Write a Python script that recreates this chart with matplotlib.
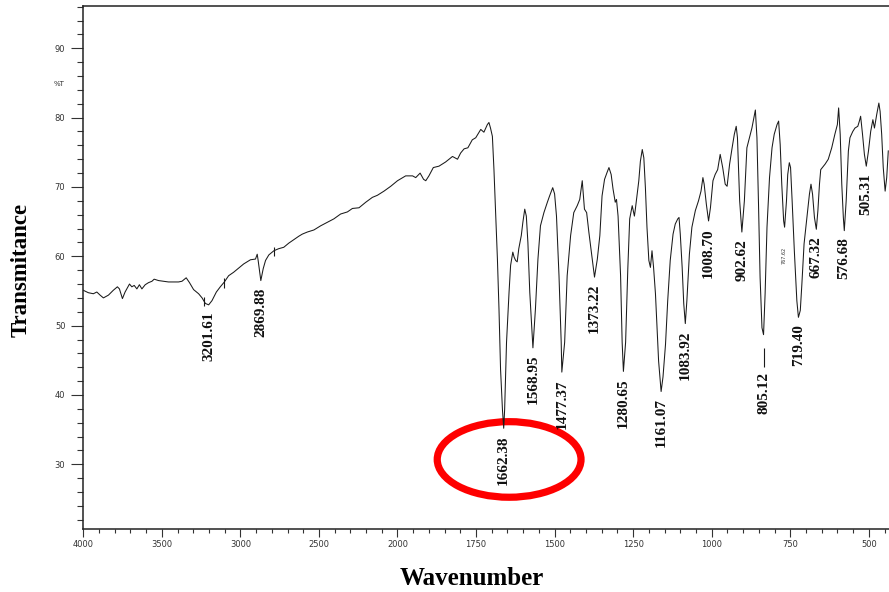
import numpy as np
import matplotlib.pyplot as plt
from matplotlib.patches import Ellipse
from matplotlib.ticker import FixedLocator

# IR spectrum (cm-1, %T)
wavenumber = [4000, 3968, 3936, 3914, 3893, 3872, 3840, 3809, 3783, 3770, 3751, 3734,
              3706, 3691, 3676, 3659, 3643, 3627, 3606, 3585, 3563, 3549, 3521, 3489,
              3458, 3426, 3394, 3372, 3345, 3324, 3298, 3266, 3244, 3223, 3202, 3181,
              3153, 3128, 3102, 3075, 3043, 3011, 2979, 2957, 2936, 2904, 2893, 2887,
              2870, 2855, 2840, 2819, 2787, 2756, 2724, 2692, 2660, 2628, 2606, 2574,
              2532, 2489, 2447, 2405, 2362, 2319, 2287, 2245, 2202, 2160, 2128, 2086,
              2043, 2000, 1974, 1952, 1942, 1928, 1917, 1910, 1900, 1886, 1868, 1847,
              1825, 1809, 1799, 1788, 1776, 1762, 1751, 1735, 1725, 1714, 1709, 1704,
              1698, 1693, 1688, 1682, 1677, 1672, 1666, 1662, 1659, 1653, 1645, 1640,
              1633, 1629, 1624, 1619, 1614, 1606, 1601, 1595, 1590, 1585, 1579, 1571,
              1569, 1561, 1553, 1545, 1534, 1523, 1516, 1510, 1506, 1500, 1494, 1486,
              1479, 1477, 1468, 1460, 1449, 1439, 1428, 1420, 1412, 1405, 1398, 1391,
              1380, 1373, 1364, 1356, 1349, 1341, 1333, 1327, 1320, 1314, 1307, 1303,
              1298, 1290, 1285, 1281, 1274, 1267, 1261, 1253, 1246, 1243, 1232, 1227,
              1221, 1216, 1211, 1206, 1200, 1195, 1190, 1185, 1179, 1174, 1169, 1161,
              1155, 1147, 1140, 1132, 1123, 1116, 1108, 1104, 1100, 1094, 1089, 1084,
              1079, 1071, 1063, 1052, 1042, 1034, 1028, 1024, 1017, 1010, 1004, 996,
              989, 981, 973, 965, 957, 951, 943, 935, 928, 922, 918, 911,
              904, 896, 888, 880, 872, 865, 861, 856, 851, 846, 840, 835,
              830, 824, 816, 808, 801, 792, 787, 782, 777, 771, 768, 762,
              758, 753, 749, 744, 737, 729, 724, 718, 713, 706, 697, 689,
              684, 679, 673, 667, 662, 657, 653, 639, 629, 618, 608, 600,
              596, 591, 586, 581, 578, 572, 565, 560, 551, 544, 535, 530,
              526, 520, 514, 508, 501, 494, 487, 482, 475, 468, 464, 459,
              454, 448, 443, 438]
transmittance = [55.1, 54.75, 54.6, 54.85, 54.4, 54.0, 54.4, 55.1, 55.6, 55.3, 53.9, 54.85,
                 56.0, 55.6, 55.8, 55.3, 55.9, 55.3, 55.9, 56.2, 56.4, 56.7, 56.5, 56.4,
                 56.3, 56.3, 56.3, 56.4, 56.9, 56.2, 55.2, 54.6, 54.0, 53.2, 53.0, 53.6,
                 54.85, 55.6, 56.3, 57.2, 57.7, 58.3, 58.9, 59.2, 59.5, 59.6, 60.3, 59.4,
                 56.5, 58.2, 59.4, 60.2, 60.8, 61.1, 61.3, 61.9, 62.4, 62.9, 63.2, 63.5,
                 63.8, 64.4, 64.9, 65.4, 66.1, 66.4, 66.9, 67.0, 67.8, 68.5, 68.8, 69.4,
                 70.1, 70.9, 71.6, 71.6, 71.35, 72.0, 71.1, 70.9, 71.6, 72.8, 73.0, 73.6,
                 74.4, 74.0, 74.9, 75.5, 75.65, 76.8, 77.1, 78.3, 77.9, 79.0, 79.3, 78.5,
                 77.3, 72.5, 66.8, 59.6, 52.4, 43.7, 37.9, 35.2, 37.9, 47.6, 54.8, 58.7,
                 60.6, 59.9, 59.4, 59.2, 61.1, 63.0, 64.9, 66.8, 65.8, 62.0, 54.8, 48.5,
                 46.8, 52.4, 59.6, 64.4, 66.3, 67.8, 68.7, 69.4, 69.9, 69.0, 65.8, 57.2,
                 47.6, 43.3, 47.6, 57.2, 63.0, 66.3, 67.3, 68.2, 70.9, 66.8, 66.3, 63.5,
                 59.6, 57.0, 59.6, 63.0, 68.7, 71.1, 72.1, 72.8, 71.8, 69.7, 67.8, 68.2,
                 65.8, 57.2, 47.6, 43.4, 47.6, 58.2, 65.4, 67.3, 65.8, 66.8, 70.9, 73.7,
                 75.4, 74.2, 69.9, 64.2, 59.4, 58.4, 60.8, 58.4, 54.6, 49.7, 44.9, 40.5,
                 42.6, 47.3, 53.6, 59.4, 63.2, 64.65, 65.4, 65.6, 63.2, 58.4, 53.2, 50.3,
                 53.6, 60.3, 64.2, 66.6, 68.0, 69.4, 71.35, 70.4, 67.5, 65.1, 67.0, 70.9,
                 71.8, 72.5, 74.7, 72.8, 70.4, 70.1, 73.3, 75.65, 77.6, 78.75, 77.1, 68.0,
                 63.5, 68.0, 75.65, 77.1, 78.5, 80.2, 81.1, 77.1, 67.5, 57.0, 49.7, 48.7,
                 54.6, 64.2, 71.35, 75.65, 77.6, 79.0, 79.5, 76.1, 70.4, 65.1, 64.2, 68.0,
                 71.8, 73.5, 72.8, 68.0, 60.8, 53.6, 51.2, 52.2, 56.0, 61.8, 65.6, 68.95,
                 70.4, 68.95, 65.6, 63.9, 66.6, 70.4, 72.5, 73.3, 74.0, 75.65, 77.6, 79.0,
                 81.4, 77.6, 70.4, 65.6, 63.7, 68.0, 75.2, 77.1, 78.0, 78.5, 78.75, 79.5,
                 80.2, 77.6, 74.7, 73.0, 75.2, 78.0, 79.7, 78.5, 80.4, 82.1, 80.9, 77.6,
                 72.8, 69.4, 71.35, 75.2]

# peak picks: where the peak is drawn, its %T, and the printed label
peak_wn = [3202, 2870, 1662, 1569, 1477, 1373, 1281, 1161, 1084, 1010, 904, 835, 724, 667, 578, 508]
peak_t = [53.0, 56.5, 35.2, 46.8, 43.3, 57.0, 43.4, 40.5, 50.3, 65.1, 63.5, 48.7, 51.2, 63.9, 63.7, 73.0]
peak_text = ["3201.61", "2869.88", "1662.38", "1568.95", "1477.37", "1373.22", "1280.65",
             "1161.07", "1083.92", "1008.70", "902.62", "805.12", "719.40", "667.32",
             "576.68", "505.31"]

# small pick markers crossing the trace
mark_wn = [3234, 3107, 2787]
mark_lo = [52.9, 55.4, 60.0]
mark_hi = [54.2, 56.9, 61.3]

x_major = [4000, 3500, 3000, 2500, 2000, 1750, 1500, 1250, 1000, 750, 500]
y_major = [30, 40, 50, 60, 70, 80, 90]


def fwd(x):
    x = np.asarray(x, dtype=float)
    return np.where(x > 2000, 2000 + (x - 2000) / 2, x)


def inv(t):
    t = np.asarray(t, dtype=float)
    return np.where(t > 2000, 2000 + (t - 2000) * 2, t)


fig = plt.figure(figsize=(8.89, 5.92), dpi=100)
ax = fig.add_axes([83.3 / 889, 1 - 529 / 592, 1 - 83.3 / 889, 523 / 592])
ax.set_xscale('function', functions=(fwd, inv))

ax.plot(wavenumber, transmittance, color='#1a1a1a', lw=0.75)
ax.vlines(mark_wn, mark_lo, mark_hi, color='#1a1a1a', lw=0.8)
# leader under the 805.12 pick
ax.vlines([835], [44.0], [46.8], color='#1a1a1a', lw=0.8)

ax.set_xlim(4000, 435.7)
ax.set_ylim(20.67, 96.1)

ax.set_xticks(x_major, labels=[str(v) for v in x_major])
ax.xaxis.set_minor_locator(FixedLocator(list(range(3900, 2000, -100)) + list(range(1950, 430, -50))))
ax.set_yticks(y_major, labels=[str(v) for v in y_major])
ax.yaxis.set_minor_locator(FixedLocator(list(range(22, 97, 2))))

ax.tick_params(axis='x', which='major', length=6, width=0.8, pad=2, labelsize=6, colors='#333333')
ax.tick_params(axis='x', which='minor', length=3, width=0.8, colors='#333333')
ax.tick_params(axis='y', which='major', length=8.4, width=0.8, pad=4.5, labelsize=6, colors='#333333')
ax.tick_params(axis='y', which='minor', length=4.5, width=0.8, colors='#333333')
ax.spines['right'].set_visible(False)
for s in ['left', 'top', 'bottom']:
    ax.spines[s].set_color('#222222')
    ax.spines[s].set_linewidth(1.1)

for wn, t, txt in zip(peak_wn, peak_t, peak_text):
    off = 26.6 if txt == "805.12" else 5
    ax.annotate(txt, xy=(wn, t), xytext=(0, -off), textcoords='offset points',
                rotation=90, ha='center', va='top', fontsize=11, fontweight='bold',
                family='Liberation Serif', color='#111111')
ax.annotate("767.62", xy=(768, 64.2), xytext=(0, -14), textcoords='offset points',
            rotation=90, ha='center', va='top', fontsize=3.5, color='#333333')

ax.add_patch(Ellipse((1644.7, 30.7), width=457.6, height=10.9, fill=False,
                     ec='#fe0000', lw=5.2, clip_on=False))

fig.text(65 / 889, 1 - 83.5 / 592, '%T', ha='right', va='center', fontsize=5, color='#333333')
fig.text(21 / 889, 1 - 270 / 592, 'Transmitance', rotation=90, ha='center', va='center',
         fontsize=16.5, fontweight='bold', family='Liberation Serif')
fig.text(472 / 889, 1 - 585 / 592, 'Wavenumber', ha='center', va='baseline',
         fontsize=18, fontweight='bold', family='Liberation Serif')

fig.savefig('out.png', dpi=100)
